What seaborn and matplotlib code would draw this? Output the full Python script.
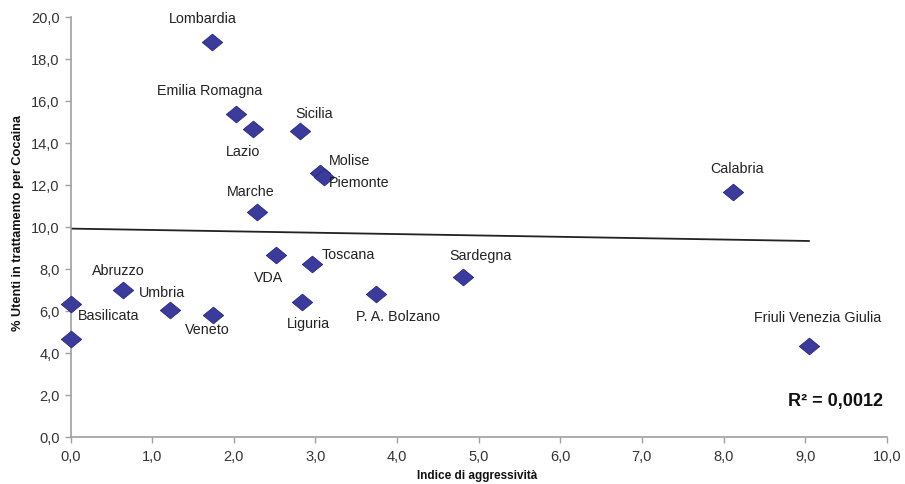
import numpy as np
import pandas as pd
import matplotlib
matplotlib.use("Agg")
import matplotlib.pyplot as plt
from matplotlib.path import Path
from matplotlib.ticker import FuncFormatter, MultipleLocator
import seaborn as sns

# ---- data ----
regions = ["Lombardia", "Emilia Romagna", "Lazio", "Sicilia", "Molise", "Piemonte",
           "Marche", "VDA", "Toscana", "Sardegna", "Abruzzo", "Umbria", "Veneto",
           "Basilicata", "", "Liguria", "P. A. Bolzano", "Calabria",
           "Friuli Venezia Giulia"]
aggressivita = [1.73, 2.03, 2.23, 2.81, 3.05, 3.10,
                2.28, 2.52, 2.96, 4.81, 0.645, 1.22, 1.75,
                0.0, 0.0, 2.84, 3.74, 8.12,
                9.05]
utenti_cocaina = [18.83, 15.41, 14.68, 14.58, 12.6, 12.4,
                  10.72, 8.67, 8.25, 7.64, 7.0, 6.05, 5.8,
                  6.32, 4.69, 6.42, 6.82, 11.69,
                  4.35]
trend_x = [0.0, 9.05]
trend_y = [9.93, 9.34]
r2_text = "R² = 0,0012"
x_label = "Indice di aggressività"
y_label = "% Utenti in trattamento per Cocaina"

df = pd.DataFrame({"regione": regions, "x": aggressivita, "y": utenti_cocaina})
trend = pd.DataFrame({"x": trend_x, "y": trend_y})

# label offsets in pixels (dx, dy up)
label_offsets = {
    "Lombardia": (-9, 23), "Emilia Romagna": (-27, 23), "Lazio": (-10, -23),
    "Sicilia": (14, 17), "Molise": (30, 12), "Piemonte": (36, -6),
    "Marche": (-6, 20), "VDA": (-8, -23), "Toscana": (36, 9),
    "Sardegna": (17, 21), "Abruzzo": (-5, 19), "Umbria": (-8, 17),
    "Veneto": (-6, -15), "Basilicata": (38, -12), "Liguria": (6, -22),
    "P. A. Bolzano": (22, -23), "Calabria": (4, 23),
    "Friuli Venezia Giulia": (8, 28),
}

sns.set_theme(style="white")
plt.rcParams["font.family"] = ["Liberation Sans", "DejaVu Sans"]

fig = plt.figure(figsize=(9.05, 4.84), dpi=100)
ax = fig.add_axes([0.0781, 0.0971, 0.9017, 0.8672])

diamond = Path([(-1, 0), (0, 0.82), (1, 0), (0, -0.82), (-1, 0)],
               [Path.MOVETO, Path.LINETO, Path.LINETO, Path.LINETO, Path.CLOSEPOLY])

sns.lineplot(data=trend, x="x", y="y", ax=ax, color="#222222", linewidth=1.3, zorder=2)
sns.scatterplot(data=df, x="x", y="y", ax=ax, marker=diamond, s=215,
                color="#3b3b9c", edgecolor="#2a2a7a", linewidth=0.6, zorder=3)

px2pt = 72.0 / 100.0
for _, row in df.iterrows():
    if not row["regione"]:
        continue
    dx, dy = label_offsets[row["regione"]]
    ax.annotate(row["regione"], (row["x"], row["y"]),
                xytext=(dx * px2pt, dy * px2pt), textcoords="offset points",
                ha="center", va="center", fontsize=10.3, color="#222222", zorder=4)

ax.set_xlim(0, 10)
ax.set_ylim(0, 20)
ax.xaxis.set_major_locator(MultipleLocator(1))
ax.yaxis.set_major_locator(MultipleLocator(2))
fmt = FuncFormatter(lambda v, p: f"{v:.1f}".replace(".", ","))
ax.xaxis.set_major_formatter(fmt)
ax.yaxis.set_major_formatter(fmt)

for s in ["top", "right"]:
    ax.spines[s].set_visible(False)
for s in ["left", "bottom"]:
    ax.spines[s].set_color("#a0a0a0")
    ax.spines[s].set_linewidth(1.2)
ax.tick_params(axis="both", which="major", direction="out", length=4, width=1,
               color="#a0a0a0", labelsize=10.5, labelcolor="#333333", pad=4,
               bottom=True, left=True)
ax.tick_params(axis="x", pad=5)
ax.set_xlabel(x_label, fontsize=8.5, fontweight="bold", color="#111111")
ax.set_ylabel(y_label, fontsize=9.2, fontweight="bold", color="#111111")
ax.xaxis.set_label_coords(0.498, -0.078)
ax.yaxis.set_label_coords(-0.057, 0.51)
for c in ax.collections:
    c.set_clip_on(False)

ax.text(0.995, 0.085, r2_text, transform=ax.transAxes, ha="right", va="center",
        fontsize=13, fontweight="bold", color="#111111")

fig.savefig("out.png", dpi=100)
